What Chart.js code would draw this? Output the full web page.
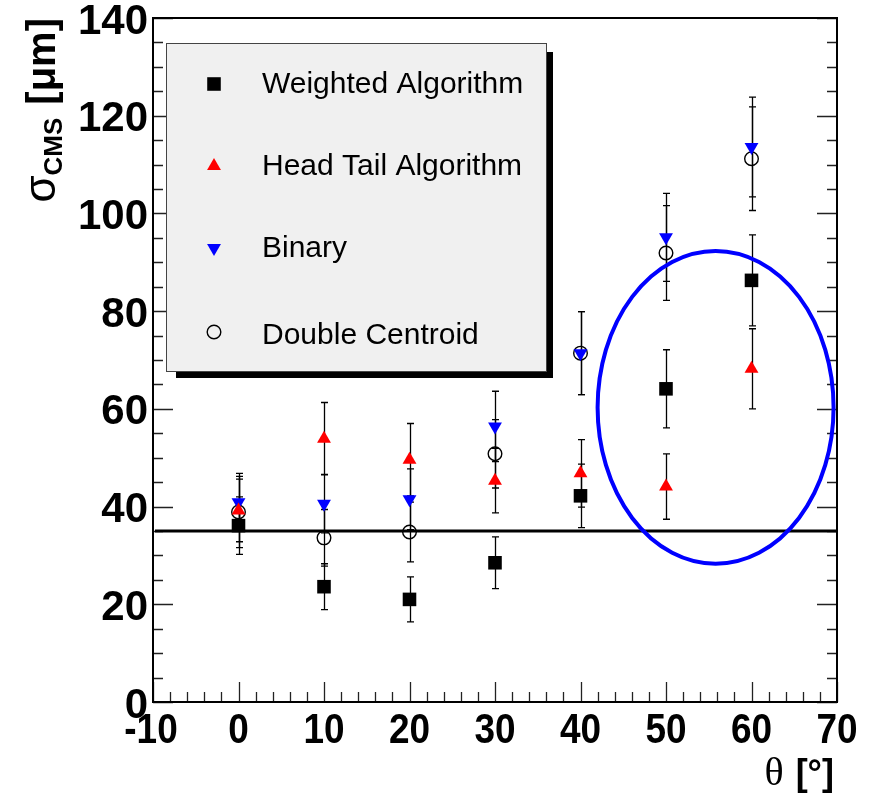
<!DOCTYPE html>
<html><head><meta charset="utf-8">
<script src="https://cdn.jsdelivr.net/npm/chart.js@4.4.1/dist/chart.umd.min.js"></script>
<style>html,body{margin:0;padding:0;background:#fff}#wrap{width:870px;height:795px}</style>
</head><body><div id="wrap"><canvas id="c" width="870" height="795"></canvas></div>
<script>
// ---- data ----
const thetas = [0, 10, 20, 30, 40, 50, 60];
const weighted = [36.1, 23.6, 21.0, 28.5, 42.2, 64.1, 86.3];
const weightedErr = [5.9, 4.7, 4.6, 5.3, 6.5, 8.0, 9.3];
const headTail = [39.2, 53.9, 49.6, 45.3, 46.8, 44.1, 68.2];
const headTailErr = [6.4, 7.4, 7.4, 6.6, 6.9, 6.7, 8.2];
const binary = [40.9, 40.6, 41.5, 56.4, 71.4, 95.1, 113.6];
const binaryErr = [5.9, 6.0, 6.2, 7.2, 8.5, 9.0, 10.2];
const doubleCentroid = [38.9, 33.6, 34.8, 50.8, 71.4, 91.9, 111.2];
const doubleCentroidErr = [7.3, 5.8, 6.1, 7.0, 8.5, 9.7, 10.6];
const seriesLabels = ['Weighted Algorithm', 'Head Tail Algorithm', 'Binary', 'Double Centroid'];
const xTickValues = [-10, 0, 10, 20, 30, 40, 50, 60, 70];
const yTickValues = [0, 20, 40, 60, 80, 100, 120, 140];
const referenceLevel = 35;
const ellipseCenter = [55.8, 60.3];
const ellipseRadii = [13.8, 32.0];

function pts(vals, errs) { return thetas.map((t, i) => ({ x: t, y: vals[i], err: errs[i] })); }

const SANS = '"Liberation Sans", Arial, Helvetica, sans-serif';

const bgPlugin = {
  id: 'bg',
  beforeDraw(chart) {
    const ctx = chart.ctx;
    ctx.save(); ctx.fillStyle = '#fff'; ctx.fillRect(0, 0, chart.width, chart.height); ctx.restore();
  }
};

const framePlugin = {
  id: 'frame',
  beforeDatasetsDraw(chart) {
    const { ctx, chartArea: a, scales: { x, y } } = chart;
    ctx.save();
    // ticks
    ctx.strokeStyle = '#222';
    ctx.lineWidth = 1.3;
    ctx.beginPath();
    for (let v = 0; v <= 140; v += 5) {
      const py = Math.round(y.getPixelForValue(v)) + 0.5;
      const len = (v % 20 === 0) ? 20 : 10;
      ctx.moveTo(a.left, py); ctx.lineTo(a.left + len, py);
      ctx.moveTo(a.right, py); ctx.lineTo(a.right - len, py);
    }
    for (let v = -10; v <= 70; v += 2) {
      const px = Math.round(x.getPixelForValue(v)) + 0.5;
      const len = (v % 10 === 0) ? 20 : 10;
      ctx.moveTo(px, a.bottom); ctx.lineTo(px, a.bottom - len);
    }
    ctx.stroke();
    // frame
    ctx.strokeStyle = '#000';
    ctx.lineWidth = 2;
    ctx.strokeRect(a.left, a.top, a.right - a.left, a.bottom - a.top);
    // reference line
    ctx.lineWidth = 3.2;
    ctx.beginPath();
    const ly = y.getPixelForValue(referenceLevel);
    ctx.moveTo(a.left + 2, ly); ctx.lineTo(a.right, ly);
    ctx.stroke();
    // error bars
    ctx.lineWidth = 1.3;
    ctx.strokeStyle = '#000';
    chart.data.datasets.forEach((ds) => {
      ds.data.forEach((p) => {
        const px = Math.round(x.getPixelForValue(p.x)) + 0.5;
        const y1 = y.getPixelForValue(p.y - p.err);
        const y2 = y.getPixelForValue(p.y + p.err);
        ctx.beginPath();
        ctx.moveTo(px, y1); ctx.lineTo(px, y2);
        ctx.moveTo(px - 3.5, y1); ctx.lineTo(px + 3.5, y1);
        ctx.moveTo(px - 3.5, y2); ctx.lineTo(px + 3.5, y2);
        ctx.stroke();
      });
    });
    ctx.restore();
  },
  afterDatasetsDraw(chart) {
    const { ctx, scales: { x, y } } = chart;
    // ellipse
    const cx = x.getPixelForValue(ellipseCenter[0]);
    const cy = y.getPixelForValue(ellipseCenter[1]);
    const rx = Math.abs(x.getPixelForValue(ellipseCenter[0] + ellipseRadii[0]) - cx);
    const ry = Math.abs(y.getPixelForValue(ellipseCenter[1] + ellipseRadii[1]) - cy);
    ctx.save();
    ctx.strokeStyle = '#0000ff';
    ctx.lineWidth = 4;
    ctx.beginPath();
    ctx.ellipse(cx, cy, rx, ry, 0, 0, Math.PI * 2);
    ctx.stroke();
    ctx.restore();
  },
  afterDraw(chart) {
    const { ctx, chartArea: a, scales: { x } } = chart;
    ctx.save();
    // x tick labels (condensed bold, as in the reference)
    ctx.fillStyle = '#000';
    ctx.font = 'bold 42px ' + SANS;
    ctx.textAlign = 'center';
    ctx.textBaseline = 'alphabetic';
    x.ticks.forEach((t) => {
      const px = x.getPixelForValue(t.value);
      const label = String(t.value);
      ctx.save();
      ctx.translate(px - (t.value < 0 ? 2 : 0), a.bottom + 41);
      ctx.scale(0.88, 1);
      ctx.fillText(label, 0, 0);
      ctx.restore();
    });
    // legend box with shadow
    const L = 166, T = 43, R = 547, B = 372;
    ctx.fillStyle = '#000';
    ctx.fillRect(R, T + 9, 6, B - T - 3);
    ctx.fillRect(L + 10, B, R - L - 4, 6);
    ctx.fillStyle = '#f0f0f0';
    ctx.fillRect(L, T, R - L, B - T);
    ctx.strokeStyle = '#444';
    ctx.lineWidth = 1;
    ctx.strokeRect(L + 0.5, T + 0.5, R - L - 1, B - T - 1);
    const markerY = [84, 166, 248, 332];
    const textY = [93, 175, 257, 344];
    ctx.font = '30px ' + SANS;
    ctx.fillStyle = '#000';
    ctx.textBaseline = 'alphabetic';
    ctx.textAlign = 'left';
    chart.data.datasets.forEach((ds, i) => {
      const opts = {
        pointStyle: ds.pointStyle, radius: ds.pointRadius, rotation: ds.pointRotation || 0,
        borderWidth: ds.pointBorderWidth
      };
      ctx.fillStyle = ds.pointBackgroundColor;
      ctx.strokeStyle = ds.pointBorderColor;
      ctx.lineWidth = ds.pointBorderWidth;
      Chart.helpers.drawPoint(ctx, opts, 214, markerY[i]);
      ctx.fillStyle = '#000';
      ctx.fillText(ds.label, 262, textY[i]);
    });
    // y-axis title  (sigma_CMS [mu m])
    ctx.save();
    ctx.translate(55, 18);
    ctx.rotate(-Math.PI / 2);
    const fSig = '44px ' + SANS, fSub = 'bold 26px ' + SANS, fUnit = 'bold 40px ' + SANS;
    ctx.font = fSig; const wSig = ctx.measureText('σ').width;
    ctx.font = fSub; const wSub = ctx.measureText('CMS').width;
    ctx.font = fUnit; const wUnit = ctx.measureText('[μm]').width;
    const gap = 13;
    let sx = -(wSig + wSub + gap + wUnit);
    ctx.fillStyle = '#000';
    ctx.textAlign = 'left';
    ctx.font = fSig; ctx.fillText('σ', sx, 0); sx += wSig;
    ctx.font = fSub; ctx.fillText('CMS', sx, 6.5); sx += wSub + gap;
    ctx.font = fUnit; ctx.fillText('[μm]', sx, 0);
    ctx.restore();
    // x-axis title (theta [deg])
    ctx.font = 'bold 36px ' + SANS;
    const wDeg = ctx.measureText('[°]').width;
    ctx.textAlign = 'left';
    ctx.fillText('[°]', 834 - wDeg, 785);
    ctx.font = '40px "Liberation Serif", "Times New Roman", serif';
    const wTh = ctx.measureText('θ').width;
    ctx.fillText('θ', 834 - wDeg - 12 - wTh, 785);
    ctx.restore();
  }
};

const chart = new Chart(document.getElementById('c'), {
  type: 'scatter',
  data: {
    datasets: [
      { label: seriesLabels[0], data: pts(weighted, weightedErr), pointStyle: 'rect', pointRadius: 9.6,
        pointBackgroundColor: '#000', pointBorderColor: '#000', pointBorderWidth: 0, showLine: false },
      { label: seriesLabels[1], data: pts(headTail, headTailErr), pointStyle: 'triangle', pointRadius: 8,
        pointBackgroundColor: '#ff0000', pointBorderColor: '#ff0000', pointBorderWidth: 0, showLine: false },
      { label: seriesLabels[2], data: pts(binary, binaryErr), pointStyle: 'triangle', pointRadius: 8,
        pointRotation: 180,
        pointBackgroundColor: '#0000ff', pointBorderColor: '#0000ff', pointBorderWidth: 0, showLine: false },
      { label: seriesLabels[3], data: pts(doubleCentroid, doubleCentroidErr), pointStyle: 'circle', pointRadius: 6.8,
        pointBackgroundColor: 'rgba(0,0,0,0)', pointBorderColor: '#000', pointBorderWidth: 1.4, showLine: false }
    ]
  },
  options: {
    responsive: false,
    animation: false,
    devicePixelRatio: 1,
    events: [],
    layout: { padding: { left: 0, right: 33, top: 18, bottom: 0 } },
    plugins: { legend: { display: false }, tooltip: { enabled: false } },
    scales: {
      x: {
        type: 'linear', position: 'bottom', min: -10, max: 70,
        afterBuildTicks: (s) => { s.ticks = xTickValues.map(v => ({ value: v })); },
        afterFit: (s) => { s.height = 93; s.paddingLeft = 0; s.paddingRight = 0; },
        grid: { display: false, drawTicks: false }, border: { display: false },
        ticks: { display: false, autoSkip: false, maxRotation: 0, minRotation: 0 }
      },
      y: {
        type: 'linear', position: 'left', min: 0, max: 140,
        afterBuildTicks: (s) => { s.ticks = yTickValues.map(v => ({ value: v })); },
        afterFit: (s) => { s.width = 153; s.paddingTop = 0; s.paddingBottom = 0; },
        grid: { display: false, drawTicks: false }, border: { display: false },
        ticks: {
          font: { family: SANS, size: 42, weight: 'bold', lineHeight: 1 },
          color: '#000', padding: 5, labelOffset: 4, autoSkip: false
        }
      }
    }
  },
  plugins: [bgPlugin, framePlugin]
});
</script>
</body></html>
